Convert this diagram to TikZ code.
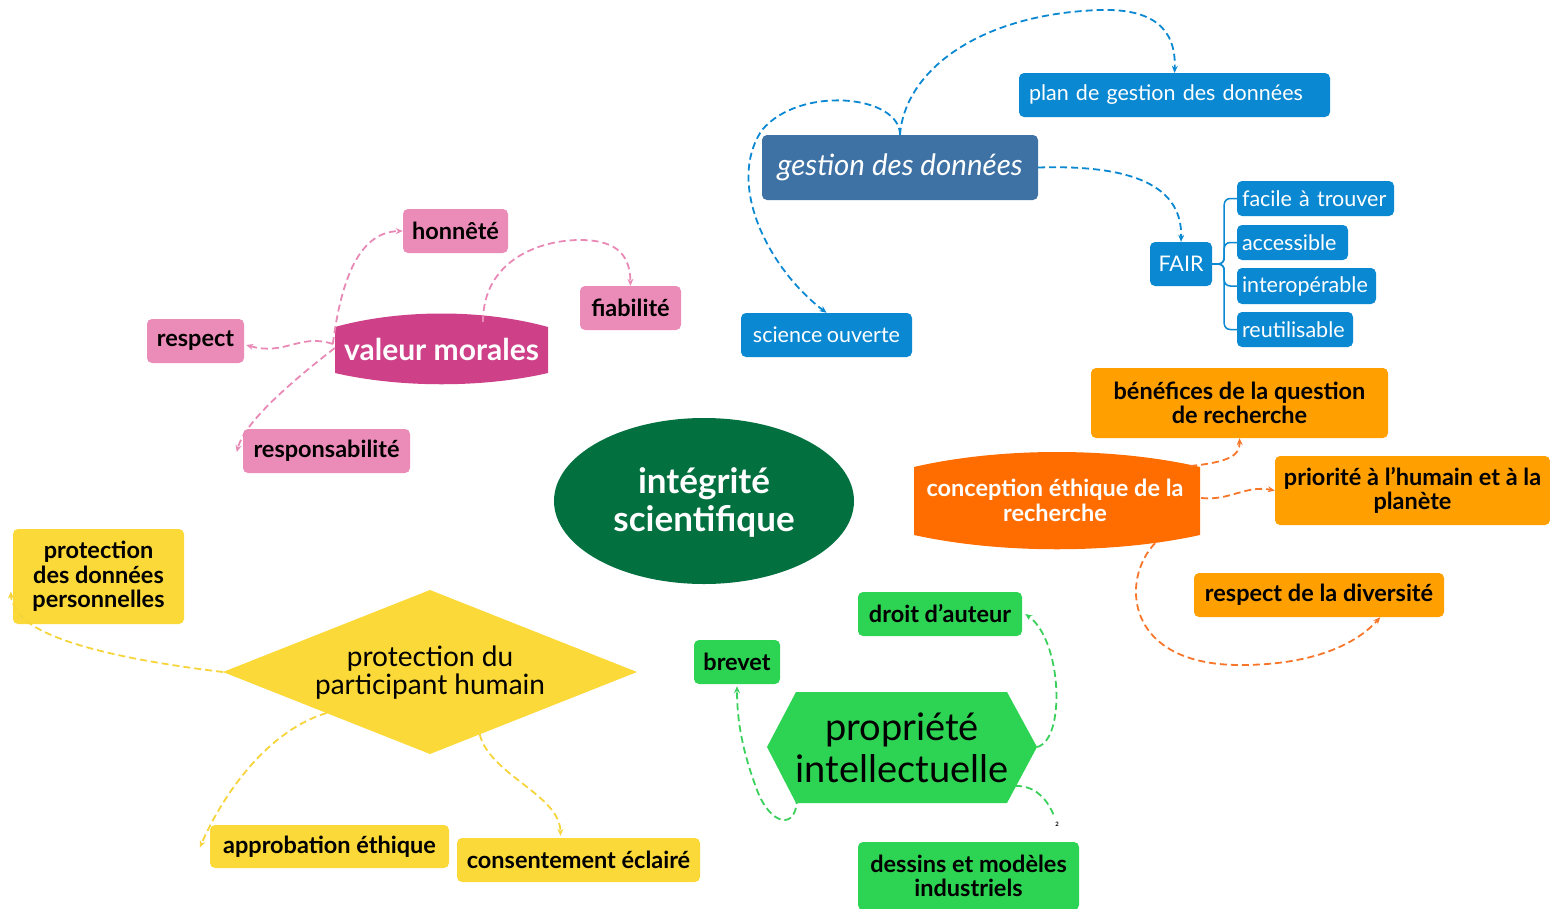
\documentclass[tikz,border=0pt]{standalone}
\usepackage{fontspec}
\setmainfont{Lato}
\newfontfamily\bluefont{Lato}[WordSpace=0.8]
\usetikzlibrary{arrows.meta,calc}
\definecolor{gestcol}{HTML}{3E72A4}
\definecolor{bluecol}{HTML}{0A88D2}
\definecolor{valcol}{HTML}{CE4189}
\definecolor{pinkcol}{HTML}{EB8BB8}
\definecolor{pinkline}{HTML}{E98AB6}
\definecolor{centcol}{HTML}{037040}
\definecolor{conccol}{HTML}{FF6D00}
\definecolor{orcol}{HTML}{FFA000}
\definecolor{orline}{HTML}{F7762A}
\definecolor{greencol}{HTML}{2DD352}
\definecolor{greenline}{HTML}{3BCF5C}
\definecolor{yelcol}{HTML}{FBD938}
\definecolor{yelline}{HTML}{F5D43C}
\tikzset{
  boxbase/.style={rectangle, rounded corners=5pt, inner sep=0pt, align=center},
  bluebox/.style={boxbase, fill=bluecol, text=white, font=\bluefont\fontsize{21.5}{25}\selectfont},
  leftbox/.style={bluebox, align=left, inner xsep=5pt},
  lab/.style={boxbase, text=black, font=\bfseries\fontsize{23.5}{24.5}\selectfont},
  pinkbox/.style={lab, fill=pinkcol},
  orbox/.style={lab, fill=orcol},
  grbox/.style={lab, fill=greencol},
  yelbox/.style={lab, fill=yelcol},
  conn/.style={line width=1.8pt, dash pattern=on 7pt off 4pt, -{Stealth[length=7pt,width=6pt]}},
  bconn/.style={conn, draw=bluecol},
  pconn/.style={conn, draw=pinkline},
  oconn/.style={conn, draw=orline},
  gconn/.style={conn, draw=greenline},
  yconn/.style={conn, draw=yelline},
}
\begin{document}
\begin{tikzpicture}[x=1pt,y=-1pt]
\useasboundingbox (0,0) rectangle (1550,908);

% ---------- data management (blue) ----------
\node[boxbase, fill=gestcol, text=white, minimum width=276pt, minimum height=65pt,
      font=\itshape\fontsize{29.5}{32}\selectfont] (gest) at (900,167.5) {gestion des données};
\node[leftbox, text width=291pt, inner xsep=10pt, minimum height=44pt] (plan) at (1174.5,95) {plan de gestion des données};
\node[bluebox, minimum width=62pt, minimum height=44pt] (fair) at (1181,264) {FAIR};
\node[leftbox, text width=147pt, minimum height=35pt] (fac) at (1315.5,198.5) {facile à trouver};
\node[leftbox, text width=101pt, minimum height=35pt] (acc) at (1292.5,242.5) {accessible};
\node[leftbox, text width=129pt, minimum height=36pt] (inter) at (1306.5,286) {interopérable};
\node[leftbox, text width=106pt, minimum height=35pt] (reut) at (1295,329.5) {reutilisable};
\node[bluebox, minimum width=171pt, minimum height=44pt] (sci) at (826.5,335) {science ouverte};

\draw[bconn] (gest.north) .. controls (905,70) and (980,14) .. (1100,10) .. controls (1165,8) and (1176,40) .. (plan.north);
\draw[bconn] (gest.north) .. controls (900,95) and (800,85) .. (762,130) .. controls (725,185) and (770,270) .. (sci.north);
\draw[bconn] (gest.east) .. controls (1120,165) and (1183,180) .. (fair.north);
\foreach \c in {fac,acc,inter,reut}
  \draw[draw=bluecol, line width=1.5pt, rounded corners=6pt] (fair.east) -- ++(12,0) |- (\c.west);

% ---------- moral values (pink) ----------
\fill[valcol] (335,327) .. controls (400,309) and (483,309) .. (548,327) -- (548,373)
  .. controls (483,388) and (400,388) .. (335,373) -- cycle;
\node[text=white, font=\bfseries\fontsize{30}{32}\selectfont, minimum width=213pt, minimum height=60pt] (val) at (441.5,349) {valeur morales};
\node[pinkbox, minimum width=105pt, minimum height=44pt] (hon) at (455.5,231) {honnêté};
\node[pinkbox, minimum width=101pt, minimum height=44pt] (fia) at (630.5,308) {fiabilité};
\node[pinkbox, minimum width=97pt, minimum height=44pt] (res) at (195.5,341) {respect};
\node[pinkbox, minimum width=167pt, minimum height=44pt] (resp) at (326.5,451) {responsabilité};

\draw[pconn] ($(val.west)+(-2,-5)$) .. controls (340,290) and (355,232) .. (hon.west);
\draw[pconn] ($(val.west)+(-2,-5)$) .. controls (300,333) and (285,356) .. ($(res.east)+(2,4)$);
\draw[pconn] ($(val.west)+(0,-1)$) .. controls (300,375) and (245,420) .. ($(resp.west)+(-6,1)$);
\draw[pconn] ($(val.north)+(41.5,3)$) .. controls (483,260) and (540,240) .. (580,240) .. controls (620,240) and (630,258) .. (fia.north);

% ---------- centre ----------
\fill[centcol] (704,501) ellipse [x radius=150, y radius=83];
\node[text=white, font=\bfseries\fontsize{35}{38}\selectfont, align=center] (cent) at (704,502) {intégrité\\scientifique};

% ---------- ethical design (orange) ----------
\fill[conccol] (914,467) .. controls (1000,447) and (1114,447) .. (1200,467) -- (1200,535)
  .. controls (1114,554) and (1000,554) .. (914,535) -- cycle;
\node[text=white, font=\bfseries\fontsize{23.5}{25}\selectfont, align=center, minimum width=286pt, minimum height=70pt] (conc) at (1055,500) {conception éthique de la\\recherche};
\node[orbox, minimum width=297pt, minimum height=70pt] (ben) at (1239.5,403) {bénéfices de la question\\de recherche};
\node[orbox, minimum width=275pt, minimum height=69pt] (prio) at (1412.5,490.5) {priorité à l’humain et à la\\planète};
\node[orbox, minimum width=250pt, minimum height=44pt] (div) at (1319,595) {respect de la diversité};

\draw[oconn] ($(conc.east)+(-8,-34)$) .. controls (1230,462) and (1240,455) .. (ben.south);
\draw[oconn] ($(conc.east)+(3,-2)$) .. controls (1230,501) and (1245,485) .. (prio.west);
\draw[oconn] ($(conc.south)+(100,8)$) .. controls (1120,580) and (1125,665) .. (1240,665) .. controls (1320,665) and (1360,640) .. ($(div.south east)+(-64,0)$);

% ---------- intellectual property (green) ----------
\coordinate (hl) at (767,747);
\coordinate (hr) at (1037,747);
\fill[greencol] (hl) -- (796,692) -- (1007,692) -- (hr) -- (1007,803) -- (796,803) -- cycle;
\node[text=black, font=\fontsize{38}{42}\selectfont, align=center] (prop) at (902,748) {propriété\\intellectuelle};
\node[grbox, minimum width=164pt, minimum height=44pt] (droit) at (940,614) {droit d’auteur};
\node[grbox, minimum width=86pt, minimum height=44pt] (brev) at (737,662) {brevet};
\node[grbox, minimum width=221pt, minimum height=68pt] (dess) at (968.5,876) {dessins et modèles\\industriels};

\draw[gconn] (hr) .. controls (1066,740) and (1062,640) .. ($(droit.east)+(3,0)$);
\draw[gconn] (797,797) .. controls (797,832) and (770,825) .. (757,790) .. controls (742,750) and (737,720) .. ($(brev.south)+(0,2)$);
\draw[draw=greenline, line width=1.8pt, dash pattern=on 7pt off 4pt] (1015,786) .. controls (1035,785) and (1048,800) .. (1054,816);
\node[font=\bfseries\fontsize{6}{7}\selectfont, inner sep=0pt] (two) at (1057,824) {2};

% ---------- human participant (yellow) ----------
\coordinate (dl) at (223,672);
\coordinate (dr) at (637,672);
\coordinate (dt) at (430,590);
\coordinate (db) at (430,754);
\fill[yelcol] (dl) -- (dt) -- (dr) -- (db) -- cycle;
\node[text=black, font=\fontsize{28}{28}\selectfont, align=center] (dia) at (430,673) {protection du\\participant humain};
\node[yelbox, minimum width=171pt, minimum height=95pt] (pdp) at (98.5,576.5) {protection\\des données\\personnelles};
\node[yelbox, minimum width=239pt, minimum height=43pt] (appr) at (329.5,846.5) {approbation éthique};
\node[yelbox, minimum width=243pt, minimum height=44pt] (cons) at (578.5,860) {consentement éclairé};

\draw[yconn] (dl) .. controls (140,662) and (50,645) .. (22,617) .. controls (14,608) and (11,600) .. ($(pdp.west)+(-2,15)$);
\draw[yconn] ($(dl)!0.5!(db)$) .. controls (270,730) and (225,790) .. ($(appr.west)+(-10,1)$);
\draw[yconn] ($(db)!0.24!(dr)$) .. controls (490,775) and (560,795) .. ($(cons.north)+(-18,-2)$);
\end{tikzpicture}
\end{document}
